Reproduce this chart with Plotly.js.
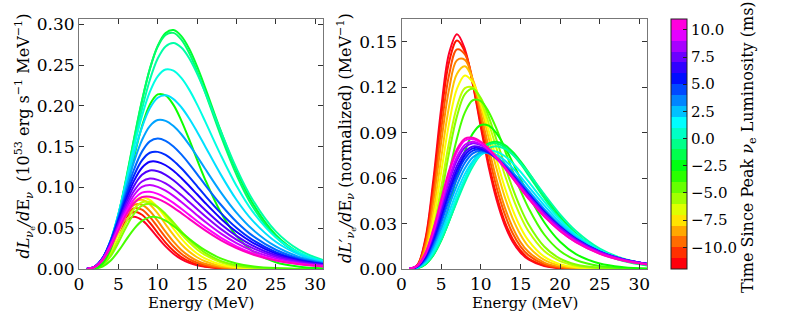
<!DOCTYPE html>
<html><head><meta charset="utf-8">
<script src="https://cdn.plot.ly/plotly-3.0.1.min.js"></script>
<style>html,body{margin:0;padding:0;background:#fff}#chart{width:789px;height:317px}</style>
</head><body><div id="chart"></div>
<script>
const energy = [1, 2, 3, 4, 5, 6, 7, 8, 9, 10, 11, 12, 13, 14, 15, 16, 18, 20, 22, 25, 28, 31];
// Time since peak nu_e luminosity (ms) for each curve
const times = [-12, -11, -10, -9, -8, -7, -6, -5, -4, -3, -2, -1, 0, 1, 2, 3, 4, 5, 6, 7, 8, 9, 10, 11];
// Luminosity of each curve (1e53 erg/s), used for the normalized panel
const luminosity = [0.413, 0.464, 0.514, 0.571, 0.634, 0.688, 0.686, 0.672, 0.571, 2.251, 3.488, 3.494, 3.420, 3.141, 2.766, 2.377, 2.051, 1.823, 1.650, 1.494, 1.337, 1.226, 1.105, 1.023];

// dL/dE spectra (1e53 erg s^-1 MeV^-1)
const spec_m12 = [0.0000, 0.0011, 0.0081, 0.0240, 0.0437, 0.0588, 0.0640, 0.0599, 0.0503, 0.0387, 0.0277, 0.0188, 0.0121, 0.0075, 0.0045, 0.0026, 0.0008, 0.0002, 0.0001, 0.0000, 0.0000, 0.0000];
const spec_m11 = [0.0000, 0.0012, 0.0086, 0.0254, 0.0466, 0.0634, 0.0700, 0.0665, 0.0567, 0.0444, 0.0324, 0.0224, 0.0147, 0.0093, 0.0057, 0.0033, 0.0011, 0.0003, 0.0001, 0.0000, 0.0000, 0.0000];
const spec_m10 = [0.0000, 0.0012, 0.0084, 0.0252, 0.0472, 0.0658, 0.0745, 0.0728, 0.0639, 0.0515, 0.0388, 0.0276, 0.0188, 0.0122, 0.0077, 0.0047, 0.0016, 0.0005, 0.0002, 0.0000, 0.0000, 0.0000];
const spec_m9 = [0.0000, 0.0012, 0.0082, 0.0249, 0.0476, 0.0677, 0.0787, 0.0788, 0.0711, 0.0589, 0.0457, 0.0335, 0.0234, 0.0158, 0.0102, 0.0065, 0.0024, 0.0008, 0.0003, 0.0000, 0.0000, 0.0000];
const spec_m8 = [0.0000, 0.0011, 0.0076, 0.0236, 0.0463, 0.0680, 0.0817, 0.0848, 0.0792, 0.0681, 0.0548, 0.0418, 0.0304, 0.0213, 0.0144, 0.0095, 0.0038, 0.0014, 0.0005, 0.0001, 0.0000, 0.0000];
const spec_m7 = [0.0000, 0.0010, 0.0069, 0.0218, 0.0438, 0.0661, 0.0819, 0.0879, 0.0847, 0.0753, 0.0628, 0.0495, 0.0373, 0.0271, 0.0190, 0.0130, 0.0056, 0.0022, 0.0008, 0.0002, 0.0000, 0.0000];
const spec_m6 = [0.0000, 0.0008, 0.0057, 0.0180, 0.0370, 0.0574, 0.0736, 0.0819, 0.0821, 0.0760, 0.0660, 0.0544, 0.0429, 0.0327, 0.0240, 0.0172, 0.0082, 0.0036, 0.0015, 0.0004, 0.0001, 0.0000];
const spec_m5 = [0.0000, 0.0006, 0.0047, 0.0153, 0.0322, 0.0515, 0.0678, 0.0776, 0.0799, 0.0758, 0.0675, 0.0571, 0.0462, 0.0360, 0.0272, 0.0200, 0.0100, 0.0046, 0.0020, 0.0005, 0.0001, 0.0000];
const spec_m4 = [0.0000, 0.0004, 0.0030, 0.0101, 0.0218, 0.0360, 0.0493, 0.0590, 0.0636, 0.0633, 0.0592, 0.0527, 0.0450, 0.0371, 0.0296, 0.0231, 0.0130, 0.0068, 0.0034, 0.0011, 0.0003, 0.0001];
const spec_m3 = [0.0000, 0.0009, 0.0068, 0.0236, 0.0538, 0.0942, 0.1373, 0.1751, 0.2015, 0.2140, 0.2129, 0.2012, 0.1820, 0.1588, 0.1342, 0.1103, 0.0695, 0.0405, 0.0222, 0.0082, 0.0028, 0.0009];
const spec_m2 = [0.0001, 0.0020, 0.0108, 0.0315, 0.0656, 0.1100, 0.1590, 0.2057, 0.2452, 0.2735, 0.2893, 0.2929, 0.2855, 0.2700, 0.2483, 0.2231, 0.1696, 0.1207, 0.0815, 0.0417, 0.0198, 0.0088];
const spec_m1 = [0.0001, 0.0020, 0.0110, 0.0321, 0.0666, 0.1114, 0.1602, 0.2066, 0.2453, 0.2726, 0.2871, 0.2895, 0.2812, 0.2649, 0.2427, 0.2172, 0.1639, 0.1157, 0.0775, 0.0392, 0.0184, 0.0081];
const spec_p0 = [0.0001, 0.0024, 0.0119, 0.0329, 0.0658, 0.1077, 0.1529, 0.1958, 0.2318, 0.2580, 0.2729, 0.2770, 0.2715, 0.2584, 0.2397, 0.2174, 0.1691, 0.1235, 0.0859, 0.0461, 0.0231, 0.0109];
const spec_p1 = [0.0001, 0.0026, 0.0127, 0.0344, 0.0675, 0.1079, 0.1498, 0.1876, 0.2172, 0.2363, 0.2445, 0.2431, 0.2342, 0.2199, 0.2018, 0.1816, 0.1399, 0.1021, 0.0712, 0.0389, 0.0199, 0.0097];
const spec_p2 = [0.0001, 0.0027, 0.0130, 0.0346, 0.0664, 0.1041, 0.1416, 0.1737, 0.1970, 0.2100, 0.2129, 0.2083, 0.1983, 0.1846, 0.1684, 0.1509, 0.1160, 0.0849, 0.0599, 0.0334, 0.0176, 0.0088];
const spec_p3 = [0.0001, 0.0028, 0.0133, 0.0344, 0.0646, 0.0990, 0.1317, 0.1580, 0.1752, 0.1826, 0.1816, 0.1753, 0.1652, 0.1524, 0.1382, 0.1232, 0.0943, 0.0691, 0.0489, 0.0276, 0.0148, 0.0076];
const spec_p4 = [0.0002, 0.0029, 0.0133, 0.0339, 0.0624, 0.0938, 0.1223, 0.1439, 0.1565, 0.1600, 0.1571, 0.1502, 0.1405, 0.1289, 0.1163, 0.1035, 0.0791, 0.0580, 0.0412, 0.0236, 0.0128, 0.0067];
const spec_p5 = [0.0002, 0.0030, 0.0134, 0.0334, 0.0606, 0.0896, 0.1149, 0.1331, 0.1425, 0.1436, 0.1399, 0.1328, 0.1235, 0.1129, 0.1016, 0.0902, 0.0688, 0.0505, 0.0360, 0.0207, 0.0114, 0.0060];
const spec_p6 = [0.0002, 0.0029, 0.0132, 0.0326, 0.0584, 0.0854, 0.1083, 0.1241, 0.1314, 0.1313, 0.1272, 0.1204, 0.1116, 0.1018, 0.0916, 0.0813, 0.0620, 0.0456, 0.0327, 0.0189, 0.0105, 0.0057];
const spec_p7 = [0.0002, 0.0029, 0.0130, 0.0317, 0.0562, 0.0813, 0.1020, 0.1154, 0.1208, 0.1198, 0.1155, 0.1088, 0.1006, 0.0915, 0.0820, 0.0726, 0.0552, 0.0406, 0.0290, 0.0168, 0.0094, 0.0051];
const spec_p8 = [0.0002, 0.0029, 0.0128, 0.0310, 0.0542, 0.0774, 0.0960, 0.1073, 0.1110, 0.1093, 0.1049, 0.0984, 0.0906, 0.0821, 0.0735, 0.0649, 0.0492, 0.0361, 0.0258, 0.0150, 0.0084, 0.0045];
const spec_p9 = [0.0001, 0.0026, 0.0118, 0.0291, 0.0514, 0.0735, 0.0907, 0.1006, 0.1029, 0.1007, 0.0960, 0.0896, 0.0821, 0.0741, 0.0660, 0.0581, 0.0437, 0.0318, 0.0226, 0.0130, 0.0072, 0.0039];
const spec_p10 = [0.0001, 0.0024, 0.0113, 0.0280, 0.0493, 0.0700, 0.0855, 0.0937, 0.0947, 0.0921, 0.0873, 0.0811, 0.0739, 0.0664, 0.0588, 0.0516, 0.0385, 0.0278, 0.0196, 0.0112, 0.0061, 0.0033];
const spec_p11 = [0.0001, 0.0022, 0.0106, 0.0265, 0.0468, 0.0664, 0.0809, 0.0881, 0.0886, 0.0859, 0.0813, 0.0753, 0.0685, 0.0615, 0.0544, 0.0477, 0.0355, 0.0257, 0.0181, 0.0103, 0.0057, 0.0030];

const spectra = [spec_m12, spec_m11, spec_m10, spec_m9, spec_m8, spec_m7, spec_m6, spec_m5, spec_m4, spec_m3, spec_m2, spec_m1,
                 spec_p0, spec_p1, spec_p2, spec_p3, spec_p4, spec_p5, spec_p6, spec_p7, spec_p8, spec_p9, spec_p10, spec_p11];

const xTicks = [0, 5, 10, 15, 20, 25, 30];
const tMin = -12, tMax = 11;

// gist_rainbow colormap
const gistStops = [[0.000, [1, 0, 0.16]], [0.030, [1, 0, 0]], [0.215, [1, 1, 0]], [0.400, [0, 1, 0]],
                   [0.586, [0, 1, 1]], [0.770, [0, 0, 1]], [0.954, [1, 0, 1]], [1.000, [1, 0, 0.75]]];
function gist(f) {
  f = Math.max(0, Math.min(1, f));
  for (let i = 1; i < gistStops.length; i++) {
    const [a, ca] = gistStops[i - 1], [b, cb] = gistStops[i];
    if (f <= b) {
      const w = (f - a) / (b - a);
      const c = ca.map((v, k) => Math.round(255 * (v + (cb[k] - v) * w)));
      return `rgb(${c[0]},${c[1]},${c[2]})`;
    }
  }
  return 'rgb(255,0,191)';
}
const colorFor = t => gist((t - tMin) / (tMax - tMin));

const traces = [];
spectra.forEach((s, i) => {
  const col = colorFor(times[i]);
  traces.push({x: energy, y: s, xaxis: 'x', yaxis: 'y', type: 'scatter', mode: 'lines',
    line: {color: col, width: 2, shape: 'spline', smoothing: 1}, hoverinfo: 'skip'});
});
spectra.forEach((s, i) => {
  const col = colorFor(times[i]);
  traces.push({x: energy, y: s.map(v => v / luminosity[i]), xaxis: 'x2', yaxis: 'y2', type: 'scatter', mode: 'lines',
    line: {color: col, width: 2, shape: 'spline', smoothing: 1}, hoverinfo: 'skip'});
});

// discrete colour bar (one band per ms)
const nb = tMax - tMin;
const cscale = [];
for (let i = 0; i < nb; i++) {
  const c = gist((i + 0.5) / nb);
  cscale.push([i / nb, c]); cscale.push([(i + 1) / nb, c]);
}
traces.push({x: [-50], y: [-50], xaxis: 'x2', yaxis: 'y2', type: 'scatter', mode: 'markers',
  marker: {color: [0], cmin: tMin, cmax: tMax, colorscale: cscale, showscale: true, size: 1,
    colorbar: {x: 670.5 / 789, xanchor: 'left', xpad: 0, ypad: 0, y: 0.5, yanchor: 'middle',
      len: 1, lenmode: 'fraction', thickness: 15.5, thicknessmode: 'pixels',
      outlinewidth: 1, outlinecolor: '#222',
      tickmode: 'linear', tick0: -10, dtick: 2.5, tickformat: '.1f',
      ticks: 'inside', ticklen: 4, tickcolor: '#222', tickfont: {family: 'DejaVu Serif', size: 15, color: '#000'}}},
  hoverinfo: 'skip', showlegend: false});

const axBase = {ticks: 'inside', ticklen: 5, tickwidth: 1, tickcolor: '#333', showline: true, linecolor: '#777', linewidth: 1,
  mirror: 'ticks', showgrid: false, zeroline: false, tickfont: {family: 'DejaVu Serif', size: 17, color: '#000'}};

const layout = {
  width: 789, height: 317, margin: {l: 0, r: 0, t: 19, b: 48},
  paper_bgcolor: '#fff', plot_bgcolor: '#fff', showlegend: false,
  font: {family: 'DejaVu Serif', size: 15, color: '#000'},
  xaxis: Object.assign({}, axBase, {domain: [79 / 789, 323 / 789], range: [0, 31], tickvals: xTicks, anchor: 'y'}),
  yaxis: Object.assign({}, axBase, {range: [0, 0.3065], tickmode: 'linear', tick0: 0, dtick: 0.05, tickformat: '.2f', anchor: 'x'}),
  xaxis2: Object.assign({}, axBase, {domain: [401.5 / 789, 647.3 / 789], range: [0, 31], tickvals: xTicks, anchor: 'y2'}),
  yaxis2: Object.assign({}, axBase, {range: [0, 0.165], tickmode: 'linear', tick0: 0, dtick: 0.03, tickformat: '.2f', anchor: 'x2'}),
  annotations: [
    {text: 'Energy (MeV)', xref: 'paper', yref: 'paper', x: 201 / 789, y: (269 - 303) / 250, xanchor: 'center', yanchor: 'middle', showarrow: false, font: {size: 15}},
    {text: 'Energy (MeV)', xref: 'paper', yref: 'paper', x: 524.5 / 789, y: (269 - 303) / 250, xanchor: 'center', yanchor: 'middle', showarrow: false, font: {size: 15}},
    {text: '<i>dL</i><sub><i>ν</i><sub>e</sub></sub><i>/d</i>E<sub><i>ν</i></sub>  (10<sup>53</sup> erg s<sup>−1</sup> MeV<sup>−1</sup>)',
      xref: 'paper', yref: 'paper', x: 24 / 789, y: (269 - 136.5) / 250, xanchor: 'center', yanchor: 'middle', textangle: -90, showarrow: false, font: {size: 16}},
    {text: '<i>dL′</i><sub><i>ν</i><sub>e</sub></sub><i>/d</i>E<sub><i>ν</i></sub> (normalized) (MeV<sup>−1</sup>)',
      xref: 'paper', yref: 'paper', x: 346 / 789, y: (269 - 138) / 250, xanchor: 'center', yanchor: 'middle', textangle: -90, showarrow: false, font: {size: 16}},
    {text: 'Time Since Peak <i>ν</i><sub>e</sub> Luminosity (ms)',
      xref: 'paper', yref: 'paper', x: 748 / 789, y: (269 - 147) / 250, xanchor: 'center', yanchor: 'middle', textangle: -90, showarrow: false, font: {size: 16}}
  ]
};

Plotly.newPlot('chart', traces, layout, {staticPlot: true, displayModeBar: false});
</script>
</body></html>
